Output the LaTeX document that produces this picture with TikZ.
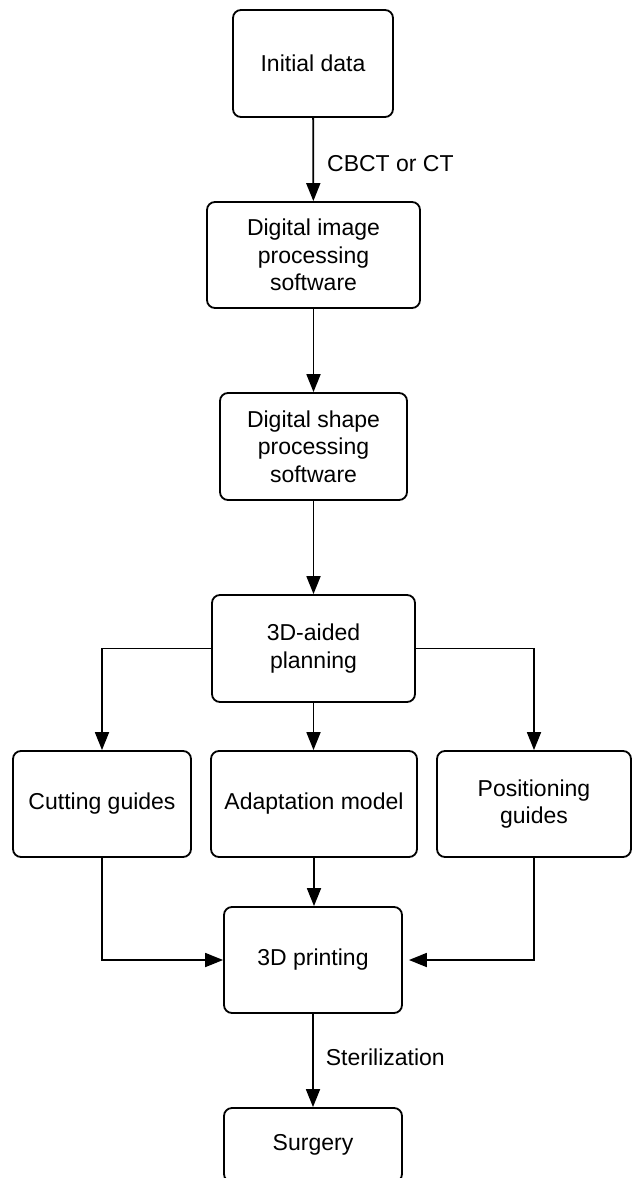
\documentclass[tikz,border=0pt]{standalone}
\usepackage{fontspec}
\setmainfont{Liberation Sans}
\usetikzlibrary{arrows.meta}
\begin{document}
\begin{tikzpicture}[x=1pt,y=-1pt,
  box/.style={draw, line width=1.8pt, rounded corners=8pt, align=center,
    inner sep=0pt, font=\fontsize{23}{27.5}\selectfont},
  conn/.style={line width=1.8pt, -{Triangle[length=18pt,width=14pt]}},
  lbl/.style={anchor=west, inner sep=0pt, font=\fontsize{23}{27}\selectfont}]
\useasboundingbox (0,0) rectangle (633,1178);
\node[box, minimum width=160pt, minimum height=107pt] (init) at (313,63.5) {Initial data};
\node[box, minimum width=213pt, minimum height=106pt] (dimg) at (313.5,255) {Digital image\\processing\\software};
\node[box, minimum width=187pt, minimum height=107pt] (dshape) at (313.5,446.5) {Digital shape\\processing\\software};
\node[box, minimum width=203pt, minimum height=107pt] (plan) at (313.5,648.5) {3D-aided\\planning};
\node[box, minimum width=178pt, minimum height=106pt] (cut) at (102,804) {Cutting guides};
\node[box, minimum width=206pt, minimum height=106pt] (adapt) at (314,804) {Adaptation model};
\node[box, minimum width=194pt, minimum height=106pt] (pos) at (534,804) {Positioning\\guides};
\node[box, minimum width=178pt, minimum height=106pt] (print) at (313,960) {3D printing};
\node[box, minimum width=178pt, minimum height=74pt] (surg) at (313,1145) {Surgery};
\draw[conn] (init) -- (dimg) node[lbl, pos=0.55, xshift=13pt] {CBCT or CT};
\draw[conn] (dimg) -- (dshape);
\draw[conn] (dshape) -- (plan);
\draw[conn] (plan.west) -| (cut.north);
\draw[conn] (plan.south) -- (plan.south |- adapt.north);
\draw[conn] (plan.east) -| (pos.north);
\draw[conn] (cut.south) |- (print.west);
\draw[conn] (adapt.south) -- (adapt.south |- print.north);
\draw[conn, shorten >=6pt] (pos.south) |- (print.east);
\draw[conn] (print) -- (surg) node[lbl, pos=0.47, xshift=12pt] {Sterilization};
\end{tikzpicture}
\end{document}
